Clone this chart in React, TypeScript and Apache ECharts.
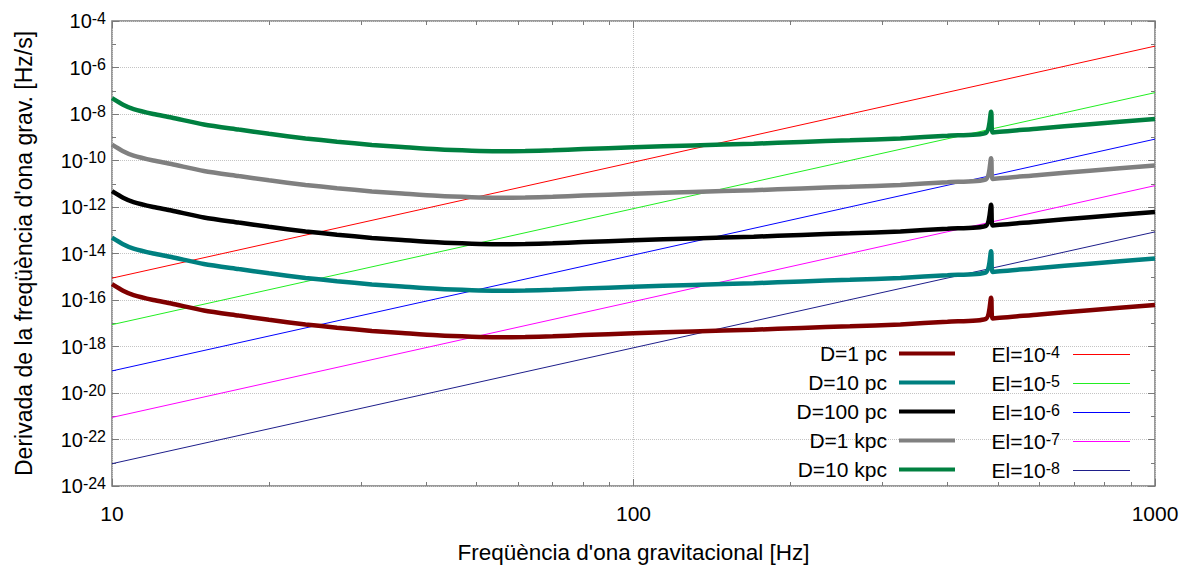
import { useEffect, useRef } from "react";
import * as echarts from "echarts";

// Frequencies (Hz) sampled along the thick curves
const freqs = [10, 10.5, 11, 12, 13, 15, 17.5, 20, 23.5, 27, 31.5, 36, 42, 49, 55, 62, 70, 80, 100, 130, 170, 210, 260, 325, 400, 474, 485, 488, 600, 750, 1000];

// df/dt [Hz/s] for each distance
const d1pc = [4.79e-16, 2.51e-16, 1.62e-16, 1.0e-16, 7.08e-17, 3.55e-17, 2.14e-17, 1.41e-17, 8.91e-18, 6.46e-18, 4.68e-18, 3.8e-18, 3.02e-18, 2.63e-18, 2.51e-18, 2.57e-18, 2.75e-18, 3.09e-18, 3.72e-18, 4.47e-18, 5.25e-18, 6.31e-18, 7.41e-18, 8.91e-18, 1.17e-17, 1.55e-17, 1.26e-16, 1.62e-17, 2.4e-17, 3.63e-17, 6.03e-17];
const d10pc = [4.79e-14, 2.51e-14, 1.62e-14, 1.0e-14, 7.08e-15, 3.55e-15, 2.14e-15, 1.41e-15, 8.91e-16, 6.46e-16, 4.68e-16, 3.8e-16, 3.02e-16, 2.63e-16, 2.51e-16, 2.57e-16, 2.75e-16, 3.09e-16, 3.72e-16, 4.47e-16, 5.25e-16, 6.31e-16, 7.41e-16, 8.91e-16, 1.17e-15, 1.55e-15, 1.26e-14, 1.62e-15, 2.4e-15, 3.63e-15, 6.03e-15];
const d100pc = [4.79e-12, 2.51e-12, 1.62e-12, 1.0e-12, 7.08e-13, 3.55e-13, 2.14e-13, 1.41e-13, 8.91e-14, 6.46e-14, 4.68e-14, 3.8e-14, 3.02e-14, 2.63e-14, 2.51e-14, 2.57e-14, 2.75e-14, 3.09e-14, 3.72e-14, 4.47e-14, 5.25e-14, 6.31e-14, 7.41e-14, 8.91e-14, 1.17e-13, 1.55e-13, 1.26e-12, 1.62e-13, 2.4e-13, 3.63e-13, 6.03e-13];
const d1kpc = [4.79e-10, 2.51e-10, 1.62e-10, 1.0e-10, 7.08e-11, 3.55e-11, 2.14e-11, 1.41e-11, 8.91e-12, 6.46e-12, 4.68e-12, 3.8e-12, 3.02e-12, 2.63e-12, 2.51e-12, 2.57e-12, 2.75e-12, 3.09e-12, 3.72e-12, 4.47e-12, 5.25e-12, 6.31e-12, 7.41e-12, 8.91e-12, 1.17e-11, 1.55e-11, 1.26e-10, 1.62e-11, 2.4e-11, 3.63e-11, 6.03e-11];
const d10kpc = [4.79e-8, 2.51e-8, 1.62e-8, 1.0e-8, 7.08e-9, 3.55e-9, 2.14e-9, 1.41e-9, 8.91e-10, 6.46e-10, 4.68e-10, 3.8e-10, 3.02e-10, 2.63e-10, 2.51e-10, 2.57e-10, 2.75e-10, 3.09e-10, 3.72e-10, 4.47e-10, 5.25e-10, 6.31e-10, 7.41e-10, 8.91e-10, 1.17e-9, 1.55e-9, 1.26e-8, 1.62e-9, 2.4e-9, 3.63e-9, 6.03e-9];

// Ellipticity lines (straight in log-log), endpoints at 10 Hz and 1000 Hz
const elFreqs = [10, 1000];
const el4 = [8.7e-16, 8.3e-6];
const el5 = [8.7e-18, 8.3e-8];
const el6 = [8.9e-20, 8.3e-10];
const el7 = [8.9e-22, 8.3e-12];
const el8 = [9.1e-24, 8.5e-14];

const distNames = ["D=1 pc", "D=10 pc", "D=100 pc", "D=1 kpc", "D=10 kpc"];
const distSeries = [d1pc, d10pc, d100pc, d1kpc, d10kpc];
const distColors = ["#800000", "#008080", "#000000", "#808080", "#008040"];

const elNames = ["El=10^-4", "El=10^-5", "El=10^-6", "El=10^-7", "El=10^-8"];
const elSeries = [el4, el5, el6, el7, el8];
const elColors = ["#ff0000", "#22ee22", "#0000ff", "#ff00ff", "#1e1e8a"];

const FONT = "'Liberation Sans', Arial, sans-serif";
const FRAME = "#7a7a7a";

export default function App() {
  const ref = useRef<HTMLDivElement>(null);

  useEffect(() => {
    if (!ref.current) return;
    const chart = echarts.init(ref.current, undefined, { renderer: "svg" });

    const thin = elNames.map((name, k) => ({
      name,
      type: "line",
      symbol: "none",
      silent: true,
      z: 2,
      color: elColors[k],
      lineStyle: { width: 1, color: elColors[k] },
      data: elFreqs.map((f, i) => [f, Math.log10(elSeries[k][i])]),
    }));

    const thick = distNames.map((name, k) => ({
      name,
      type: "line",
      symbol: "none",
      silent: true,
      z: 3,
      smooth: 0.25,
      color: distColors[k],
      lineStyle: { width: 4.5, color: distColors[k], join: "bevel" },
      data: freqs.map((f, i) => [f, Math.log10(distSeries[k][i])]),
    }));

    const tickStyle = { color: FRAME, width: 1 };
    const supRich = {
      b: { fontSize: 20, fontFamily: FONT, color: "#000", lineHeight: 22 },
      s: { fontSize: 16, fontFamily: FONT, color: "#000", lineHeight: 8, verticalAlign: "top" },
    };

    chart.setOption({
      animation: false,
      backgroundColor: "#fff",
      textStyle: { fontFamily: FONT },
      grid: {
        left: 112,
        right: 32,
        top: 21,
        bottom: 82,
        show: true,
        borderColor: FRAME,
        borderWidth: 1.5,
        containLabel: false,
      },
      legend: [
        {
          orient: "vertical",
          align: "right",
          right: 232,
          top: 343,
          padding: 0,
          itemWidth: 56,
          itemHeight: 20,
          itemGap: 8,
          icon: "path://M0,0H56V4H0Z",
          selectedMode: false,
          data: distNames,
          textStyle: { fontFamily: FONT, fontSize: 21, color: "#000", lineHeight: 20, padding: [0, 7, 0, 0] },
        },
        {
          orient: "vertical",
          align: "right",
          right: 57,
          top: 344,
          padding: 0,
          itemWidth: 57,
          itemHeight: 20,
          itemGap: 8,
          icon: "path://M0,0H57V1.2H0Z",
          selectedMode: false,
          data: elNames,
          formatter: (name: string) => {
            const [a, b] = name.split("^");
            return `${a}{s|${b}}`;
          },
          textStyle: {
            fontFamily: FONT,
            fontSize: 21,
            color: "#000",
            lineHeight: 20,
            padding: [0, 8, 0, 0],
            rich: { s: { fontSize: 16, fontFamily: FONT, color: "#000", lineHeight: 8, verticalAlign: "top" } },
          },
        },
      ],
      xAxis: [
        {
          type: "log",
          logBase: 10,
          min: 10,
          max: 1000,
          position: "bottom",
          name: "Freqüència d'ona gravitacional [Hz]",
          nameLocation: "middle",
          nameGap: 55,
          nameTextStyle: { fontFamily: FONT, fontSize: 22.5, color: "#000" },
          axisLine: { show: false },
          axisTick: { show: true, inside: true, length: 7, lineStyle: tickStyle },
          minorTick: { show: true, splitNumber: 9, length: 4, lineStyle: tickStyle },
          axisLabel: {
            show: true,
            margin: 17,
            fontFamily: FONT,
            fontSize: 21,
            color: "#000",
            formatter: (v: number) => String(Math.round(v)),
          },
          splitLine: { show: true, lineStyle: { color: "#c4c4c4", type: "dotted", width: 1 } },
        },
        {
          type: "log",
          logBase: 10,
          min: 10,
          max: 1000,
          position: "top",
          axisLine: { show: false },
          axisTick: { show: true, inside: true, length: 7, lineStyle: tickStyle },
          minorTick: { show: true, splitNumber: 9, length: 4, lineStyle: tickStyle },
          axisLabel: { show: false },
          splitLine: { show: false },
        },
      ],
      yAxis: [
        {
          type: "value",
          min: -24,
          max: -4,
          interval: 2,
          position: "left",
          name: "Derivada de la freqüència d'ona grav. [Hz/s]",
          nameLocation: "middle",
          nameGap: 77,
          nameTextStyle: { fontFamily: FONT, fontSize: 23, color: "#000" },
          axisLine: { show: false },
          axisTick: { show: true, inside: true, length: 7, lineStyle: tickStyle },
          minorTick: { show: true, splitNumber: 2, length: 4, lineStyle: tickStyle },
          axisLabel: {
            show: true,
            margin: 6,
            formatter: (v: number) => `{b|10}{s|${Math.round(v)}}`,
            rich: supRich,
          },
          splitLine: { show: true, lineStyle: { color: "#c4c4c4", type: "dotted", width: 1 } },
        },
        {
          type: "value",
          min: -24,
          max: -4,
          interval: 2,
          position: "right",
          axisLine: { show: false },
          axisTick: { show: true, inside: true, length: 7, lineStyle: tickStyle },
          minorTick: { show: true, splitNumber: 2, length: 4, lineStyle: tickStyle },
          axisLabel: { show: false },
          splitLine: { show: false },
        },
      ],
      series: [...thin, ...thick],
    });

    return () => chart.dispose();
  }, []);

  return (
    <div
      ref={ref}
      style={{ position: "fixed", left: 0, top: 0, width: 1187, height: 569, background: "#fff" }}
    />
  );
}
